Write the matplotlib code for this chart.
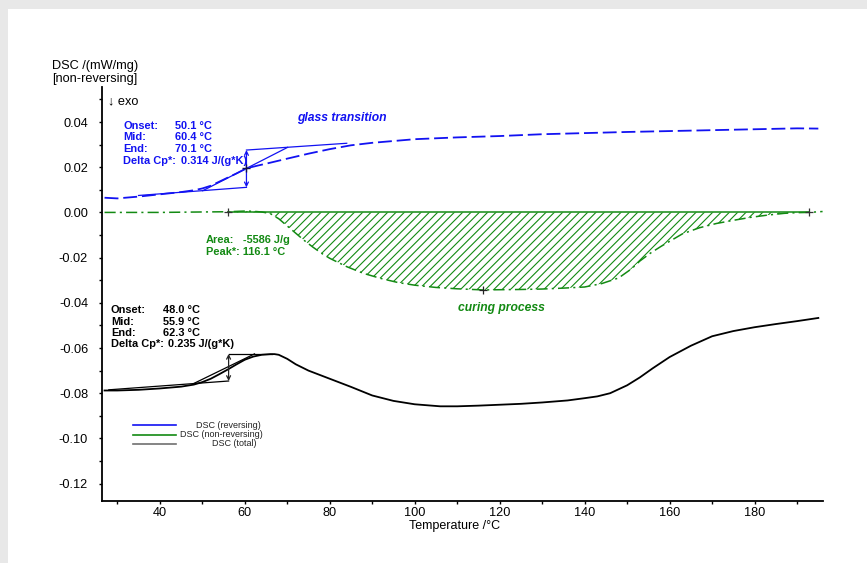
import matplotlib
matplotlib.use("Agg")
import matplotlib.pyplot as plt
from matplotlib.patches import Rectangle
import numpy as np

plt.rcParams['font.family'] = ['Liberation Sans', 'DejaVu Sans']
plt.rcParams['axes.unicode_minus'] = False
plt.rcParams['lines.scale_dashes'] = False
plt.rcParams['hatch.linewidth'] = 0.8

# ---------------- data ----------------
T_rev = [27, 30, 35, 40, 45, 48, 50, 52, 55, 58, 60.4, 63, 66, 70, 75, 80, 85, 90, 95,
         100, 110, 120, 130, 140, 150, 160, 170, 180, 190, 195]
dsc_rev = [0.0065, 0.0062, 0.0070, 0.0080, 0.0090, 0.0098, 0.0106, 0.0118, 0.0145, 0.0172,
           0.0195, 0.0207, 0.0220, 0.0238, 0.0260, 0.0280, 0.0297, 0.0308, 0.0316,
           0.0324, 0.0332, 0.0338, 0.0346, 0.0351, 0.0356, 0.0360, 0.0364, 0.0368, 0.0372, 0.0371]

T_non = [27, 40, 50, 56, 60, 62, 64, 66, 68, 70, 72, 74, 76, 78, 80, 84, 88, 92, 96, 100,
         105, 110, 116.1, 120, 125, 130, 135, 140, 144, 148, 151, 153, 155.5, 158, 160, 163,
         167, 171, 175, 179, 183, 187, 190, 192.7, 196]
dsc_non = [0.0000, 0.0000, 0.0002, 0.0003, 0.0006, 0.0005, 0.0002, -0.0005, -0.0028, -0.0060,
           -0.0092, -0.0124, -0.0153, -0.0180, -0.0203, -0.0240, -0.0270, -0.0292, -0.0310, -0.0322,
           -0.0332, -0.0338, -0.0343, -0.0342, -0.0341, -0.0339, -0.0335, -0.0330, -0.0315, -0.0290,
           -0.0250, -0.0215, -0.0180, -0.0150, -0.0128, -0.0095,
           -0.0068, -0.0049, -0.0035, -0.0022, -0.0012, -0.0004, -0.0001, 0.0000, 0.0004]

T_tot = [27, 30, 35, 40, 45, 48, 50, 52, 54, 56.2, 58, 60, 62, 64, 66, 67, 68, 70, 72, 75,
         80, 85, 90, 95, 100, 106, 110, 115, 120, 125, 130, 136, 140, 143, 146, 150, 153, 156,
         160, 162, 165, 170, 175, 180, 185, 190, 195]
dsc_tot = [-0.0788, -0.0788, -0.0785, -0.0779, -0.0771, -0.0762, -0.0751, -0.0736, -0.0716, -0.0693,
           -0.0673, -0.0652, -0.0638, -0.0630, -0.0627, -0.0627, -0.0630, -0.0648, -0.0672, -0.0700,
           -0.0736, -0.0772, -0.0810, -0.0834, -0.0849, -0.0858, -0.0858, -0.0855, -0.0851, -0.0847,
           -0.0841, -0.0832, -0.0822, -0.0814, -0.0800, -0.0765, -0.0730, -0.0690,
           -0.0640, -0.0620, -0.0590, -0.0548, -0.0525, -0.0508, -0.0494, -0.0481, -0.0467]

x_ticks = [40, 60, 80, 100, 120, 140, 160, 180]
y_ticks = [0.04, 0.02, 0.00, -0.02, -0.04, -0.06, -0.08, -0.10, -0.12]

legend_labels = ["DSC (reversing)", "DSC (non-reversing)", "DSC (total)"]

BLUE = '#1212f2'
GREEN = '#138a13'
BLACK = '#000000'

W, H = 867, 563
def fx(px):
    return px / W
def fy(py):
    return 1 - py / H

fig = plt.figure(figsize=(W / 100, H / 100), dpi=100)
fig.patch.set_facecolor('#e8e8e8')
fig.add_artist(Rectangle((fx(8), 0), 1 - fx(8), fy(9), transform=fig.transFigure,
                         facecolor='white', edgecolor='none', zorder=0))

ax = fig.add_axes([fx(102), fy(501), fx(823) - fx(102), fy(87) - fy(501)])
ax.set_facecolor('none')
ax.set_xlim(26.4, 196.1)
ax.set_ylim(-0.1277, 0.0555)
for s in ['top', 'right']:
    ax.spines[s].set_visible(False)
for s in ['left', 'bottom']:
    ax.spines[s].set_linewidth(1.3)

ax.set_xticks(x_ticks)
ax.set_xticks([30] + list(np.array(x_ticks) + 10), minor=True)
ax.set_xticklabels([str(v) for v in x_ticks])
ax.set_yticks(y_ticks)
ax.set_yticklabels(['%.2f' % v for v in y_ticks])
ax.set_yticks([0.05, 0.03, 0.01, -0.01, -0.03, -0.05, -0.07, -0.09, -0.11], minor=True)
ax.tick_params(axis='both', which='both', direction='out', length=2.5, width=1.0,
               labelsize=9.2, colors='black')
ax.tick_params(axis='x', pad=2.0)
ax.tick_params(axis='y', pad=7.5)

# curves
ax.plot(T_rev, dsc_rev, color=BLUE, lw=1.3, dashes=(10, 3.5), zorder=3)
ax.plot(T_non, dsc_non, color=GREEN, lw=1.1, dashes=(8, 3, 1.5, 3), zorder=3)
ax.plot(T_tot, dsc_tot, color=BLACK, lw=1.3, zorder=3)

# curing peak integration
Tn = np.array(T_non)
Dn = np.array(dsc_non)
mask = (Tn >= 56) & (Tn <= 192.7)
ax.fill_between(Tn[mask], Dn[mask], 0, facecolor='none', edgecolor=GREEN, hatch='////',
                linewidth=0, zorder=2)
ax.plot([56, 192.7], [0, 0], color=GREEN, lw=1.1, zorder=3)
ax.plot([56, 192.7], [0, 0], ls='none', marker='+', ms=6, mew=0.9, color='#333333', zorder=4)
ipk = T_non.index(116.1)
ax.plot([T_non[ipk]], [dsc_non[ipk]], ls='none', marker='+', ms=6, mew=0.9, color='#222222', zorder=4)

# glass transition evaluation (reversing)
ax.plot([35, 60.4], [0.0075, 0.0111], color=BLUE, lw=0.9, zorder=3)
ax.plot([50.1, 70.1], [0.0096, 0.0288], color=BLUE, lw=0.9, zorder=3)
ax.plot([60.4, 84], [0.0276, 0.0306], color=BLUE, lw=0.9, zorder=3)
ax.annotate('', xy=(60.4, 0.0276), xytext=(60.4, 0.0111),
            arrowprops=dict(arrowstyle='<->', color=BLUE, lw=0.9, mutation_scale=7,
                            shrinkA=0, shrinkB=0), zorder=3)
ax.plot([60.4], [0.0195], ls='none', marker='+', ms=6, mew=1.0, color='#10104a', zorder=4)

# glass transition evaluation (total)
ax.plot([28, 56.2], [-0.0785, -0.0746], color=BLACK, lw=0.9, zorder=3)
ax.plot([48.0, 62.3], [-0.0757, -0.0626], color=BLACK, lw=0.9, zorder=3)
ax.plot([56.2, 66.5], [-0.0626, -0.0626], color=BLACK, lw=0.9, zorder=3)
ax.annotate('', xy=(56.2, -0.0626), xytext=(56.2, -0.0746),
            arrowprops=dict(arrowstyle='<->', color='#222222', lw=0.9, mutation_scale=7,
                            shrinkA=0, shrinkB=0), zorder=3)

# ---------------- texts ----------------
fig.text(fx(52), fy(66), "DSC /(mW/mg)", fontsize=9.2, va='center', ha='left')
fig.text(fx(52), fy(79), "[non-reversing]", fontsize=9.2, va='center', ha='left')
fig.text(fx(108), fy(101), "\u2193 exo", fontsize=9.2, va='center', ha='left')
fig.text(fx(455), fy(526), "Temperature /°C", fontsize=9.0, va='center', ha='center')

fs = 7.9
blue_rows = [("Onset:", "50.1 °C", 175, 126), ("Mid:", "60.4 °C", 175, 137.5),
             ("End:", "70.1 °C", 175, 149), ("Delta Cp*:", "0.314 J/(g*K)", 181, 161)]
for lab, val, vx, yy in blue_rows:
    fig.text(fx(123), fy(yy), lab, color=BLUE, fontsize=fs, fontweight='bold', va='center')
    fig.text(fx(vx), fy(yy), val, color=BLUE, fontsize=fs, fontweight='bold', va='center')

blk_rows = [("Onset:", "48.0 °C", 163, 310), ("Mid:", "55.9 °C", 163, 322),
            ("End:", "62.3 °C", 163, 333), ("Delta Cp*:", "0.235 J/(g*K)", 168, 344)]
for lab, val, vx, yy in blk_rows:
    fig.text(fx(111), fy(yy), lab, color='black', fontsize=fs, fontweight='bold', va='center')
    fig.text(fx(vx), fy(yy), val, color='black', fontsize=fs, fontweight='bold', va='center')

fig.text(fx(206), fy(240), "Area:", color=GREEN, fontsize=fs, fontweight='bold', va='center')
fig.text(fx(243), fy(240), "-5586 J/g", color=GREEN, fontsize=fs, fontweight='bold', va='center')
fig.text(fx(206), fy(252), "Peak*: 116.1 °C", color=GREEN, fontsize=fs, fontweight='bold', va='center')

fig.text(fx(297), fy(118), "glass transition", color=BLUE, fontsize=8.7, fontweight='bold',
         fontstyle='italic', va='center')
fig.text(fx(458), fy(308), "curing process", color=GREEN, fontsize=8.7, fontweight='bold',
         fontstyle='italic', va='center')

# legend
leg_colors = [BLUE, GREEN, '#707070']
leg_y = [425, 434.5, 444]
leg_x = [196, 180, 212]
for lab, c, yy, xx in zip(legend_labels, leg_colors, leg_y, leg_x):
    fig.add_artist(plt.Line2D([fx(133), fx(176)], [fy(yy), fy(yy)], color=c, lw=1.2,
                              transform=fig.transFigure))
    fig.text(fx(xx), fy(yy), lab, fontsize=6.5, va='center', ha='left', color='#222222')

fig.savefig("out.png", dpi=100, facecolor=fig.get_facecolor())
